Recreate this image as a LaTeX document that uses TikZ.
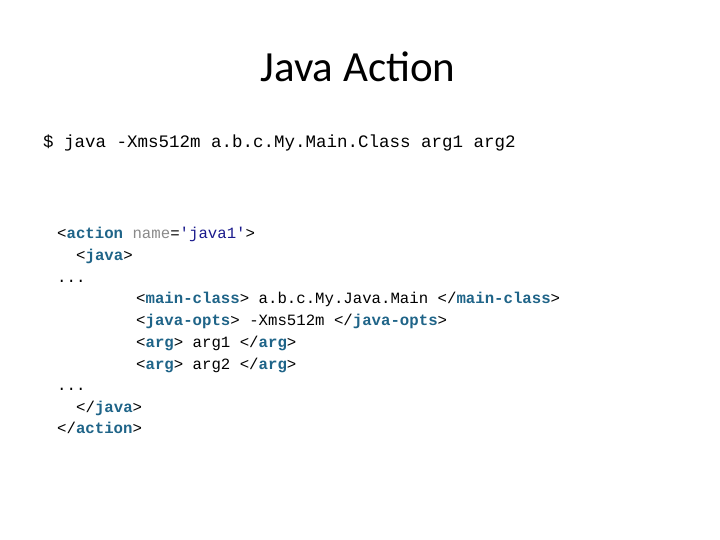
\documentclass[tikz,border=0pt]{standalone}
\usepackage{fontspec}
\setmainfont{Carlito}
\newfontfamily\codefont{Liberation Mono}
\definecolor{tagc}{HTML}{1F6488}
\definecolor{attrc}{HTML}{8A8A8A}
\definecolor{valc}{HTML}{1A1A8C}
\newcommand{\tg}[1]{\textcolor{tagc}{\bfseries #1}}
\begin{document}
\begin{tikzpicture}[x=1pt,y=1pt,
  code/.style={anchor=base west,inner sep=0pt,font=\codefont\fontsize{15.7}{18}\selectfont}]
\useasboundingbox (0,0) rectangle (720,540);
\node[anchor=base,inner sep=0pt,font=\fontsize{43}{50}\selectfont] (title) at (358,458) {Java Ac{}tion};
\node[anchor=base west,inner sep=0pt,font=\codefont\fontsize{17.5}{20}\selectfont] (cmd) at (43,392) {\$ java -Xms512m a.b.c.My.Main.Class arg1 arg2};
\node[code] (l1) at (57,301) {<\tg{action} \textcolor{attrc}{name}=\textcolor{valc}{'java1'}>};
\node[code] (l2) at (76,279) {<\tg{java}>};
\node[code] (l3) at (57,257) {...};
\node[code] (l4) at (136,236) {<\tg{main-class}> a.b.c.My.Java.Main </\tg{main-class}>};
\node[code] (l5) at (136,214) {<\tg{java-opts}> -Xms512m </\tg{java-opts}>};
\node[code] (l6) at (136,192) {<\tg{arg}> arg1 </\tg{arg}>};
\node[code] (l7) at (136,170) {<\tg{arg}> arg2 </\tg{arg}>};
\node[code] (l8) at (57,149) {...};
\node[code] (l9) at (76,127) {</\tg{java}>};
\node[code] (l10) at (57,106) {</\tg{action}>};
\end{tikzpicture}
\end{document}
